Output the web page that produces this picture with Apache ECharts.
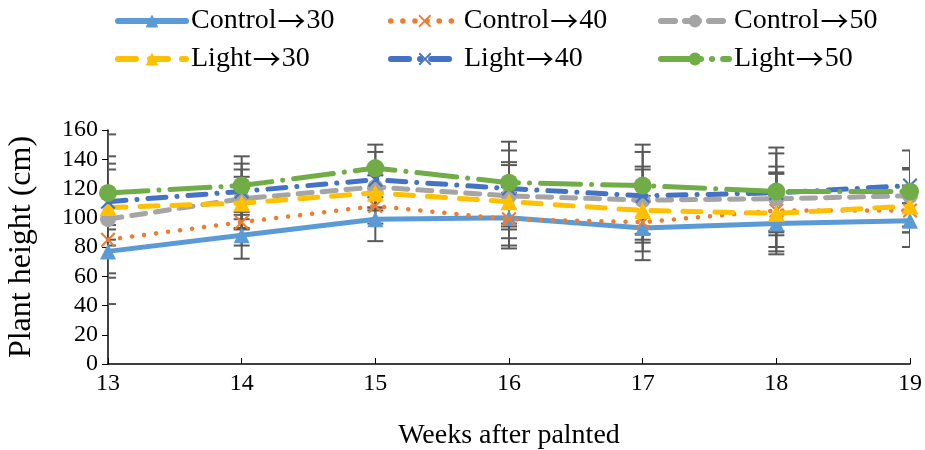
<!DOCTYPE html>
<html>
<head>
<meta charset="utf-8">
<script src="https://cdn.jsdelivr.net/npm/echarts@6/dist/echarts.min.js"></script>
<style>
  html, body { margin: 0; padding: 0; background: #fff; }
  #chart { width: 925px; height: 450px; }
</style>
</head>
<body>
<div id="chart"></div>
<script>
const weeks = [13, 14, 15, 16, 17, 18, 19];
const seriesNames = ["Control→30", "Control→40", "Control→50", "Light→30", "Light→40", "Light→50"];

const control30 = [77, 88, 99, 100, 93, 96, 98];
const control40 = [85, 97, 108, 99, 97, 105, 105];
const control50 = [99, 113, 121, 115, 112, 113, 115];
const light30 = [107, 110, 117, 111, 105, 103, 108];
const light40 = [111, 118, 126, 120, 115, 117, 122];
const light50 = [117, 122, 134, 124, 122, 118, 118];

// standard deviation, drawn as +/- bars
const control30Err = [18, 16, 15, 21, 22, 19, 18];
const control40Err = [23, 16, 12, 18, 14, 25, 15];
const control50Err = [58, 20, 14, 23, 23, 22, 18];
const light30Err = [26, 18, 12, 25, 28, 28, 14];
const light40Err = [26, 19, 19, 26, 30, 27, 12];
const light50Err = [25, 20, 16, 28, 28, 30, 28];

const allValues = [control30, control40, control50, light30, light40, light50];
const allErrors = [control30Err, control40Err, control50Err, light30Err, light40Err, light50Err];

const font = "'Liberation Serif', 'Times New Roman', serif";
const crossPath = "path://M0,1L1,0L5,4L9,0L10,1L6,5L10,9L9,10L5,6L1,10L0,9L4,5Z";

const styles = [
  { color: "#5B9BD5", symbol: "triangle", size: 16, width: 5, type: "solid" },
  { color: "#ED7D31", symbol: crossPath, size: 15, width: 4.5, type: [0.1, 12] },
  { color: "#A5A5A5", symbol: "circle", size: 16, width: 5, type: [14, 10] },
  { color: "#FFC000", symbol: "triangle", size: 17, width: 5, type: [18, 14] },
  { color: "#4472C4", symbol: crossPath, size: 15, width: 5, type: [18, 11, 0.1, 11] },
  { color: "#70AD47", symbol: "circle", size: 18, width: 5, type: [40, 11, 0.1, 11] }
];

const errData = [];
allValues.forEach((vals, s) => {
  vals.forEach((v, i) => {
    errData.push([weeks[i], v - allErrors[s][i], v + allErrors[s][i]]);
  });
});

const lineSeries = seriesNames.map((name, s) => ({
  name: name,
  type: "line",
  z: 3 + s,
  data: weeks.map((w, i) => [w, allValues[s][i]]),
  symbol: styles[s].symbol,
  symbolSize: styles[s].size,
  showAllSymbol: true,
  itemStyle: { color: styles[s].color },
  lineStyle: { color: styles[s].color, width: styles[s].width, type: styles[s].type, cap: "round" },
  emphasis: { disabled: true }
}));

const errorSeries = {
  type: "custom",
  name: "errors",
  z: 2,
  data: errData,
  renderItem: function (params, api) {
    const x = api.value(0);
    const lo = api.coord([x, api.value(1)]);
    const hi = api.coord([x, api.value(2)]);
    const half = 8;
    const st = { stroke: "#595959", lineWidth: 2 };
    return {
      type: "group",
      children: [
        { type: "line", shape: { x1: lo[0], y1: lo[1], x2: hi[0], y2: hi[1] }, style: st },
        { type: "line", shape: { x1: lo[0] - half, y1: lo[1], x2: lo[0] + half, y2: lo[1] }, style: st },
        { type: "line", shape: { x1: hi[0] - half, y1: hi[1], x2: hi[0] + half, y2: hi[1] }, style: st }
      ]
    };
  },
  clip: true,
  silent: true
};

const legendPos = [
  { left: 115, top: 7 }, { left: 388, top: 7 }, { left: 658, top: 7 },
  { left: 115, top: 45 }, { left: 388, top: 45 }, { left: 658, top: 45 }
];
const legends = seriesNames.map((name, s) => ({
  data: [name],
  left: legendPos[s].left,
  top: legendPos[s].top,
  padding: 0,
  itemWidth: 68,
  itemHeight: 16,
  lineStyle: { width: styles[s].width + 1, type: styles[s].type, cap: "round" },
  formatter: function (n) {
    const parts = n.split("→");
    return parts[0] + "{a|→}" + parts[1];
  },
  textStyle: {
    fontFamily: font,
    fontSize: 28,
    color: "#000",
    rich: { a: { fontFamily: "'Noto Sans CJK JP'", fontSize: 28, color: "#000", padding: [0, 1] } }
  },
  selectedMode: false
}));

const chart = echarts.init(document.getElementById("chart"));
chart.setOption({
  animation: false,
  backgroundColor: "#fff",
  legend: legends,
  grid: { left: 108, right: 15, top: 130, bottom: 86, outerBoundsMode: "none" },
  xAxis: {
    type: "value",
    min: 13,
    max: 19,
    interval: 1,
    name: "Weeks after palnted",
    nameLocation: "middle",
    nameGap: 58,
    nameTextStyle: { fontFamily: font, fontSize: 28, color: "#000" },
    axisLine: { lineStyle: { color: "#000", width: 1.5 } },
    axisTick: { show: true, inside: true, length: 6, lineStyle: { color: "#000" } },
    axisLabel: { fontFamily: font, fontSize: 24, color: "#000", margin: 8 },
    splitLine: { show: false }
  },
  yAxis: {
    type: "value",
    min: 0,
    max: 160,
    interval: 20,
    name: "Plant height (cm)",
    nameLocation: "middle",
    nameGap: 70,
    nameTextStyle: { fontFamily: font, fontSize: 32, color: "#000" },
    axisLine: { show: true, lineStyle: { color: "#000", width: 1.5 } },
    axisTick: { show: true, length: 6, lineStyle: { color: "#000" } },
    axisLabel: { fontFamily: font, fontSize: 24, color: "#000", margin: 10 },
    splitLine: { show: false }
  },
  series: [errorSeries].concat(lineSeries)
});
</script>
</body>
</html>
